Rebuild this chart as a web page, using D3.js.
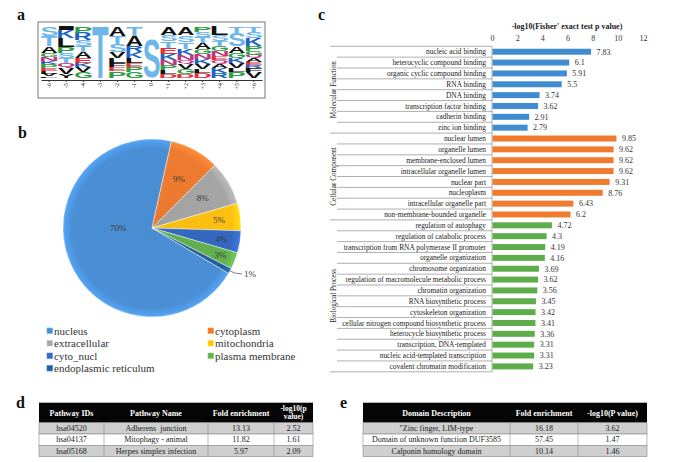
<!DOCTYPE html>
<html><head><meta charset="utf-8">
<script src="https://cdn.jsdelivr.net/npm/d3@7/dist/d3.min.js"></script>
<style>
body{margin:0;background:#fff;}
svg{display:block;}
text{font-family:"Liberation Serif","Times New Roman",serif;}
</style></head><body>
<svg id="chart" width="674" height="462"></svg>
<script>
// ================= DATA =================
// Panel a: sequence logo (letters top-to-bottom, heights in bits)
const logoPositions = ["-6","-5","-4","-3","-2","-1","0","+1","+2","+3","+4","+5","+6"];
const logoLetters = [
  ["S","T","A","G","N","K","P","E","L","V","F"],
  ["I","K","L","P","S","T","Q","V","Y"],
  ["P","R","S","T","A","E","K","V","G"],
  ["T"],
  ["A","T","S","V","L","F","E","P"],
  ["T","A","R","K","L","E","P","G"],
  ["S"],
  ["A","S","T","E","K","N","P","L","D"],
  ["A","S","T","K","N","Q","V","G","D"],
  ["P","S","T","A","G","N","K","V","L","D"],
  ["L","S","T","G","N","E","Q","A","K","R"],
  ["T","S","A","G","K","V","L","P"],
  ["T","S","K","P","G","Q","A","E","R","F","V"]
];
const logoBits = [
  [0.75,0.83,0.58,0.33,0.33,0.25,0.33,0.25,0.25,0.21,0.13],
  [0.28,0.67,0.75,0.50,0.42,0.42,0.42,0.50,0.33],
  [0.53,0.58,0.50,0.50,0.50,0.42,0.33,0.42,0.50],
  [4.28],
  [0.78,0.67,0.67,0.50,0.42,0.33,0.33,0.58],
  [0.78,0.83,0.50,0.50,0.42,0.33,0.42,0.50],
  [3.17],
  [0.69,0.50,0.58,0.50,0.50,0.42,0.42,0.33,0.33],
  [0.69,0.58,0.58,0.50,0.42,0.33,0.42,0.42,0.33],
  [0.44,0.42,0.50,0.50,0.42,0.42,0.42,0.42,0.33,0.42],
  [0.69,0.50,0.42,0.42,0.42,0.33,0.33,0.33,0.42,0.42],
  [0.53,1.08,0.58,0.42,0.42,0.42,0.33,0.50],
  [0.44,0.50,0.67,0.42,0.33,0.25,0.33,0.25,0.25,0.33,0.50]
];

// Panel b: subcellular localization
const locNames = ["nucleus","cytoplasm","extracellular","mitochondria","cyto_nucl","plasma membrane","endoplasmic reticulum"];
const locPct = [70,9,8,5,4,3,1];

// Panel c: GO enrichment
const goGroups = ["Molecular Function","Cellular Component","Biological Process"];
const mfTerms = ["nucleic acid binding","heterocyclic compound binding","organic cyclic compound binding","RNA binding","DNA binding","transcription factor binding","cadherin binding","zinc ion binding"];
const mfValues = [7.83,6.1,5.91,5.5,3.74,3.62,2.91,2.79];
const ccTerms = ["nuclear lumen","organelle lumen","membrane-enclosed lumen","intracellular organelle lumen","nuclear part","nucleoplasm","intracellular organelle part","non-membrane-bounded organelle"];
const ccValues = [9.85,9.62,9.62,9.62,9.31,8.76,6.43,6.2];
const bpTerms = ["regulation of autophagy","regulation of catabolic process","transcription from RNA polymerase II promoter","organelle organization","chromosome organization","regulation of macromolecule metabolic process","chromatin organization","RNA biosynthetic process","cytoskeleton organization","cellular nitrogen compound biosynthetic process","heterocycle biosynthetic process","transcription, DNA-templated","nucleic acid-templated transcription","covalent chromatin modification"];
const bpValues = [4.72,4.3,4.19,4.16,3.69,3.62,3.56,3.45,3.42,3.41,3.36,3.31,3.31,3.23];
const goTicks = [0,2,4,6,8,10,12];
const goTitle = "-log10(Fisher' exact test p value)";

// Panel d: KEGG pathways
const keggHeaders = ["Pathway IDs","Pathway Name","Fold enrichment","-log10(p value)"];
const keggIds = ["hsa04520","hsa04137","hsa05168"];
const keggNames = ["Adherens  junction","Mitophagy - animal","Herpes simplex infection"];
const keggFold = ["13.13","11.82","5.97"];
const keggP = ["2.52","1.61","2.09"];

// Panel e: protein domains
const domHeaders = ["Domain Description","Fold enrichment","-log10(P value)"];
const domNames = ["\"Zinc finger, LIM-type","Domain of unknown function DUF3585","Calponin homology domain"];
const domFold = ["16.18","57.45","10.14"];
const domP = ["3.62","1.47","1.46"];

// ================= STYLE =================
const locColors = ["#4A8FD6","#EE7B30","#A5A5A5","#FDC010","#3569C1","#62B04E","#24609E"];
const groupColors = ["#3F8CD0","#F07B2F","#5DAD4A"];
function logoColor(c){
  if ("ST".includes(c)) return "#6DB6E8";
  if ("KRH".includes(c)) return "#2062C4";
  if ("PG".includes(c)) return "#2E9E46";
  if ("ED".includes(c)) return "#E0303A";
  if ("NQ".includes(c)) return "#C23480";
  return "#111";
}

const svg = d3.select("#chart");

// Panel letters
[["a",17,20],["b",18,138],["c",318,20],["d",16,408],["e",340,408]].forEach(([t,x,y])=>{
  svg.append("text").text(t).attr("x",x).attr("y",y).attr("font-size",16).attr("font-weight","bold").attr("fill","#111");
});

// ================= PANEL A =================
const gA = svg.append("g");
gA.append("rect").attr("x",38).attr("y",22).attr("width",227).attr("height",76)
  .attr("fill","none").attr("stroke","#777").attr("stroke-width",1);
const lx = d3.scaleBand().domain(logoPositions).range([41,262]).paddingInner(0.04);
const ly = d3.scaleLinear().domain([0,4.3]).range([78,26.5]);
const ctx = document.createElement("canvas").getContext("2d");
ctx.font = "bold 100px 'Liberation Sans'";
logoPositions.forEach((p,i)=>{
  let cum = 0;
  const letters = logoLetters[i], bits = logoBits[i];
  for (let k = letters.length-1; k >= 0; k--) {
    const yb = ly(cum), yt = ly(cum + bits[k]); cum += bits[k];
    const h = yb - yt, w = lx.bandwidth();
    const m = ctx.measureText(letters[k]);
    const gw = m.actualBoundingBoxLeft + m.actualBoundingBoxRight;
    const gh = m.actualBoundingBoxAscent + m.actualBoundingBoxDescent;
    gA.append("text").text(letters[k])
      .style("font-family","'Liberation Sans'").attr("font-weight","bold").attr("font-size",100)
      .attr("fill", logoColor(letters[k]))
      .attr("transform",`translate(${lx(p)},${yt}) scale(${w/gw},${h/gh}) translate(${m.actualBoundingBoxLeft},${m.actualBoundingBoxAscent})`);
  }
});
const axA = gA.append("g").attr("transform","translate(0,80)")
  .call(d3.axisBottom(lx).tickSize(2).tickPadding(1).tickSizeOuter(0));
axA.select(".domain").attr("stroke","#333");
axA.selectAll("line").attr("stroke","#333");
axA.selectAll("text").attr("font-size",6).attr("fill","#222").style("font-family","'Liberation Serif',serif")
  .attr("transform","rotate(-90)").attr("text-anchor","end").attr("dy","0.32em").attr("x",-3).attr("y",0);

// ================= PANEL B =================
const cx = 152, cy = 228, R = 89;
const gB = svg.append("g").attr("transform",`translate(${cx},${cy})`);
const total = d3.sum(locPct);
const a0 = 0.22 - (locPct[0]/total)*2*Math.PI;
const pie = d3.pie().sort(null).value(d=>d).startAngle(a0).endAngle(a0 + 2*Math.PI);
const arcs = pie(locPct);
const arc = d3.arc().innerRadius(0).outerRadius(R);
const defs = svg.append("defs");
locColors.forEach((c,i)=>{
  const g = defs.append("radialGradient").attr("id","pg"+i).attr("cx",0).attr("cy",0).attr("r",R)
    .attr("gradientUnits","userSpaceOnUse");
  g.append("stop").attr("offset","0%").attr("stop-color",d3.color(c).darker(0.05));
  g.append("stop").attr("offset","90%").attr("stop-color",c);
  g.append("stop").attr("offset","100%").attr("stop-color",d3.color(c).brighter(0.4));
});
gB.selectAll("path.slice").data(arcs).enter().append("path").attr("class","slice")
  .attr("d",arc).attr("fill",(d,i)=>`url(#pg${i})`)
  .attr("stroke","#ffffff").attr("stroke-opacity",0.55).attr("stroke-width",0.8);
arcs.forEach((d,i)=>{
  const share = d.data/total;
  const mid = (d.startAngle + d.endAngle)/2;
  if (share >= 0.5) {
    gB.append("text").text(d.data+"%").attr("x",-R*0.38).attr("y",0).attr("dy","0.35em")
      .attr("text-anchor","middle").attr("font-size",9).attr("fill","#3a3a3a");
  } else if (share < 0.02) {
    const p1 = [Math.sin(mid)*R, -Math.cos(mid)*R];
    const p2 = [p1[0]+12, p1[1]+3];
    gB.append("path").attr("d",`M${p1[0]},${p1[1]} Q${p1[0]+4},${p1[1]+3} ${p2[0]},${p2[1]}`)
      .attr("fill","none").attr("stroke","#555").attr("stroke-width",0.7);
    gB.append("text").text(d.data+"%").attr("x",p2[0]+2).attr("y",p2[1]).attr("dy","0.35em")
      .attr("font-size",9).attr("fill","#3a3a3a");
  } else {
    const lr = R*(0.92 - 3.2*share);
    gB.append("text").text(d.data+"%").attr("x",Math.sin(mid)*lr).attr("y",-Math.cos(mid)*lr)
      .attr("dy","0.35em").attr("text-anchor","middle").attr("font-size",9).attr("fill","#3a3a3a");
  }
});
// legend
const gL = svg.append("g");
locNames.forEach((n,i)=>{
  const col = i%2, row = Math.floor(i/2);
  const x0 = [47,208][col], y0 = 331 + row*12.5;
  gL.append("rect").attr("x",x0).attr("y",y0-3).attr("width",5.5).attr("height",5.5)
    .attr("fill",locColors[i]).attr("stroke",d3.color(locColors[i]).brighter(0.6)).attr("stroke-width",0.6);
  gL.append("text").text(n).attr("x",x0+7).attr("y",y0).attr("dy","0.35em")
    .attr("font-size",11).attr("fill","#333");
});

// ================= PANEL C =================
const gC = svg.append("g");
const goTerms = mfTerms.concat(ccTerms, bpTerms);
const goValues = mfValues.concat(ccValues, bpValues);
const goGroupOf = mfTerms.map(()=>0).concat(ccTerms.map(()=>1), bpTerms.map(()=>2));
const xC = d3.scaleLinear().domain([0,12]).range([492,643]);
const yC = d3.scaleBand().domain(goTerms).range([46.3,371.8]).paddingInner(0.45).paddingOuter(0.225);
const step = yC.step(), off = (step - yC.bandwidth())/2;
// title and axis
gC.append("text").text(goTitle).attr("x",567).attr("y",29).attr("text-anchor","middle")
  .attr("font-size",8).attr("font-weight","bold").attr("fill","#222");
const axC = gC.append("g").attr("transform","translate(0,41)")
  .call(d3.axisTop(xC).tickValues(goTicks).tickSize(0).tickPadding(0));
axC.select(".domain").remove();
axC.selectAll("text").attr("font-size",8).attr("fill","#333").style("font-family","'Liberation Serif',serif");
// row lines
const boundaries = goTerms.map(t=>yC(t)-off).concat([yC(goTerms[goTerms.length-1]) - off + step]);
const groupStarts = [0, mfTerms.length, mfTerms.length+ccTerms.length, goTerms.length];
boundaries.forEach((b,i)=>{
  const isGroup = groupStarts.includes(i);
  gC.append("line").attr("x1",isGroup?330:337).attr("x2",492).attr("y1",b).attr("y2",b)
    .attr("stroke","#9a9a9a").attr("stroke-width",0.8);
});
gC.append("line").attr("x1",492).attr("x2",492).attr("y1",boundaries[0]).attr("y2",boundaries[boundaries.length-1])
  .attr("stroke","#9a9a9a").attr("stroke-width",0.8);
// bars
gC.selectAll("rect.bar").data(goTerms).enter().append("rect").attr("class","bar")
  .attr("x",xC(0)+0.5).attr("y",d=>yC(d)).attr("height",yC.bandwidth())
  .attr("width",(d,i)=>xC(goValues[i])-xC(0)).attr("fill",(d,i)=>groupColors[goGroupOf[i]]);
// labels
gC.selectAll("text.cat").data(goTerms).enter().append("text").attr("class","cat")
  .text(d=>d).attr("x",486).attr("y",d=>yC(d)+yC.bandwidth()/2).attr("dy","0.35em")
  .attr("text-anchor","end").attr("font-size",7.4).attr("fill","#222");
gC.selectAll("text.val").data(goTerms).enter().append("text").attr("class","val")
  .text((d,i)=>goValues[i]).attr("x",(d,i)=>xC(goValues[i])+6).attr("y",d=>yC(d)+yC.bandwidth()/2).attr("dy","0.35em")
  .attr("font-size",8).attr("fill","#333");
goGroups.forEach((g,i)=>{
  const yc = (boundaries[groupStarts[i]] + boundaries[groupStarts[i+1]])/2;
  gC.append("text").text(g).attr("transform",`translate(333.5,${yc}) rotate(-90)`).attr("text-anchor","middle")
    .attr("dy","0.35em").attr("font-size",7.2).attr("fill","#222");
});

// ================= TABLES =================
function drawTable(edges, headers, cols, rowFills){
  const g = svg.append("g");
  const top = 402.7, hh = 20, rh = 11.33;
  const x0 = edges[0], x1 = edges[edges.length-1];
  g.append("rect").attr("x",x0).attr("y",top).attr("width",x1-x0).attr("height",hh).attr("fill","#050505");
  headers.forEach((h,j)=>{
    const xc = (edges[j]+edges[j+1])/2;
    const lines = h.startsWith("-log10(p") ? ["-log10(p","value)"] : [h];
    lines.forEach((ln,k)=>{
      g.append("text").text(ln).attr("x",xc).attr("y",top+hh/2 + (lines.length>1 ? (k-0.5)*8 : 0)).attr("dy","0.35em")
        .attr("text-anchor","middle").attr("font-size",lines.length>1?7.5:8).attr("font-weight","bold").attr("fill","#fff");
    });
  });
  const nRows = cols[0].length;
  for (let r=0;r<nRows;r++){
    const yt = top+hh+r*rh;
    g.append("rect").attr("x",x0).attr("y",yt).attr("width",x1-x0).attr("height",rh)
      .attr("fill",rowFills[r]).attr("stroke","#8a8a8a").attr("stroke-width",0.6);
    for (let j=1;j<edges.length-1;j++){
      g.append("line").attr("x1",edges[j]).attr("x2",edges[j]).attr("y1",yt).attr("y2",yt+rh)
        .attr("stroke","#8a8a8a").attr("stroke-width",0.6);
    }
    cols.forEach((c,j)=>{
      g.append("text").text(c[r]).attr("x",(edges[j]+edges[j+1])/2).attr("y",yt+rh/2).attr("dy","0.35em")
        .attr("text-anchor","middle").attr("font-size",8).attr("fill","#222").style("white-space","pre");
    });
  }
}
const fills = ["#CFCFCF","#FFFFFF","#CFCFCF"];
drawTable([39,104,208,274,313], keggHeaders, [keggIds,keggNames,keggFold,keggP], fills);
drawTable([363,510,578,647], domHeaders, [domNames,domFold,domP], fills);
</script>
</body></html>
